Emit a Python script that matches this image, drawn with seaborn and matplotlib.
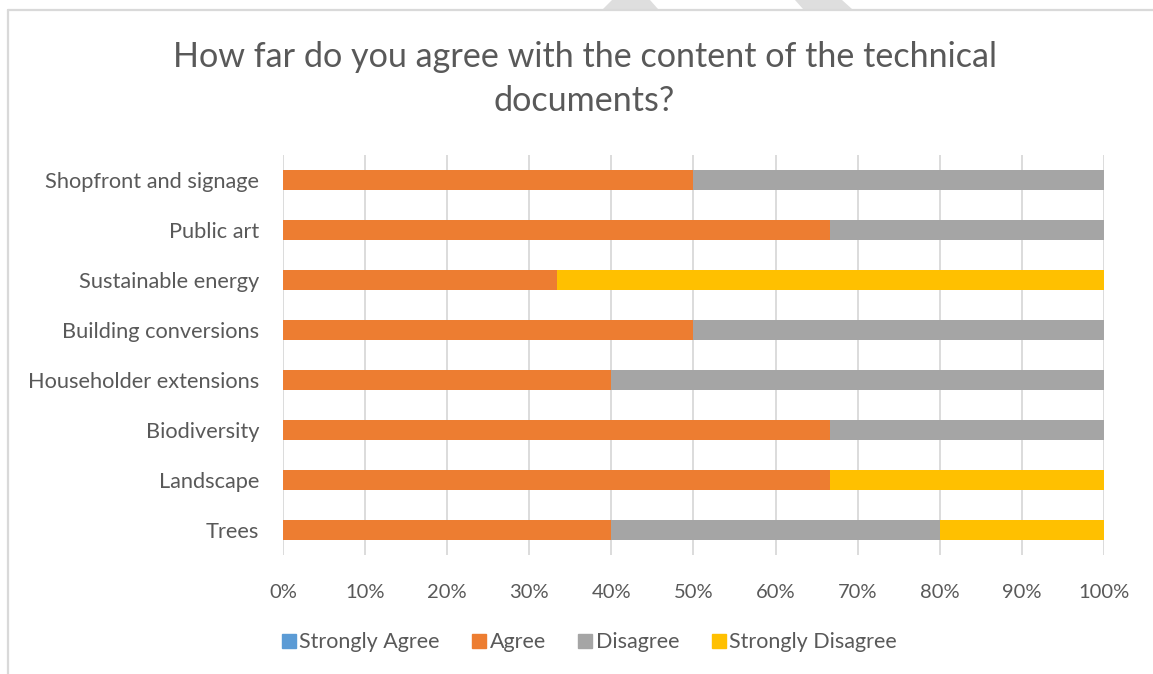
import matplotlib
matplotlib.use("Agg")
import matplotlib.pyplot as plt
from matplotlib.patches import Polygon
from matplotlib.lines import Line2D
import numpy as np
import pandas as pd
import seaborn as sns

# Survey responses, percentage of respondents per technical document
categories = ["Shopfront and signage", "Public art", "Sustainable energy",
              "Building conversions", "Householder extensions", "Biodiversity",
              "Landscape", "Trees"]
strongly_agree = [0, 0, 0, 0, 0, 0, 0, 0]
agree = [50, 66.67, 33.33, 50, 40, 66.67, 66.67, 40]
disagree = [50, 33.33, 0, 50, 60, 33.33, 0, 40]
strongly_disagree = [0, 0, 66.67, 0, 0, 0, 33.33, 20]

series_names = ["Strongly Agree", "Agree", "Disagree", "Strongly Disagree"]
series_colors = ["#5B9BD5", "#ED7D31", "#A5A5A5", "#FFC000"]
xtick_values = [0, 10, 20, 30, 40, 50, 60, 70, 80, 90, 100]
title_text = "How far do you agree with the content of the technical\ndocuments?"

sns.set_theme(style="white")
plt.rcParams["font.family"] = ["Lato", "DejaVu Sans"]
text_color = "#595959"
grid_color = "#D9D9D9"

df = pd.DataFrame({
    "category": categories,
    "Strongly Agree": strongly_agree,
    "Agree": agree,
    "Disagree": disagree,
    "Strongly Disagree": strongly_disagree,
})
cum = df[series_names].cumsum(axis=1)

fig = plt.figure(figsize=(11.53, 6.74), dpi=100)
ax = fig.add_axes([0.2454, 0.1766, 0.7121, 0.5934])

# stacked bars: draw running totals from the outermost segment inward
for name, color in reversed(list(zip(series_names, series_colors))):
    plot_df = pd.DataFrame({"category": categories, "value": cum[name].values})
    sns.barplot(data=plot_df, x="value", y="category", orient="h",
                color=color, width=0.4, saturation=1, ax=ax,
                order=categories, linewidth=0, zorder=3)

ax.set_xlim(0, 100)
ax.set_ylim(len(categories) - 0.5, -0.5)
ax.set_xticks(xtick_values)
ax.set_xticklabels([f"{v}%" for v in xtick_values])
ax.xaxis.grid(True, color=grid_color, linewidth=1.3, zorder=0)
ax.yaxis.grid(False)
for s in ax.spines.values():
    s.set_visible(False)
ax.set_xlabel("")
ax.set_ylabel("")
ax.tick_params(axis="both", length=0, colors=text_color)
ax.tick_params(axis="x", pad=21, labelsize=14.5)
ax.tick_params(axis="y", pad=17, labelsize=15.7)
for lab in ax.get_xticklabels() + ax.get_yticklabels():
    lab.set_color(text_color)

fig.text(0.507, 0.883, title_text, ha="center", va="center",
         fontsize=24.6, color=text_color, linespacing=1.46)

handles = [Line2D([0], [0], marker="s", linestyle="none", markersize=10,
                  markerfacecolor=c, markeredgecolor=c) for c in series_colors]
fig.legend(handles, series_names, loc="center", bbox_to_anchor=(0.510, 0.047),
           ncol=4, frameon=False, fontsize=15.5, handletextpad=0.05,
           columnspacing=1.37, labelcolor=text_color, handlelength=0.9)

# chart frame
fig.add_artist(Line2D([7.5 / 1153, 1.0], [1 - 9.5 / 674] * 2,
                      transform=fig.transFigure, color=grid_color, linewidth=1.6))
fig.add_artist(Line2D([7.5 / 1153] * 2, [0, 1 - 9.5 / 674],
                      transform=fig.transFigure, color=grid_color, linewidth=1.6))

# faint page watermark peeking above the frame
wm = "#DEDEDE"
for pts in ([(603, 9), (612, 0), (650, 0), (658, 9)],
            [(795, 0), (842, 0), (852, 9), (803, 9)]):
    fig.add_artist(Polygon([(x / 1153, 1 - y / 674) for x, y in pts],
                           closed=True, transform=fig.transFigure,
                           facecolor=wm, edgecolor="none"))

fig.savefig("out.png", dpi=100)
